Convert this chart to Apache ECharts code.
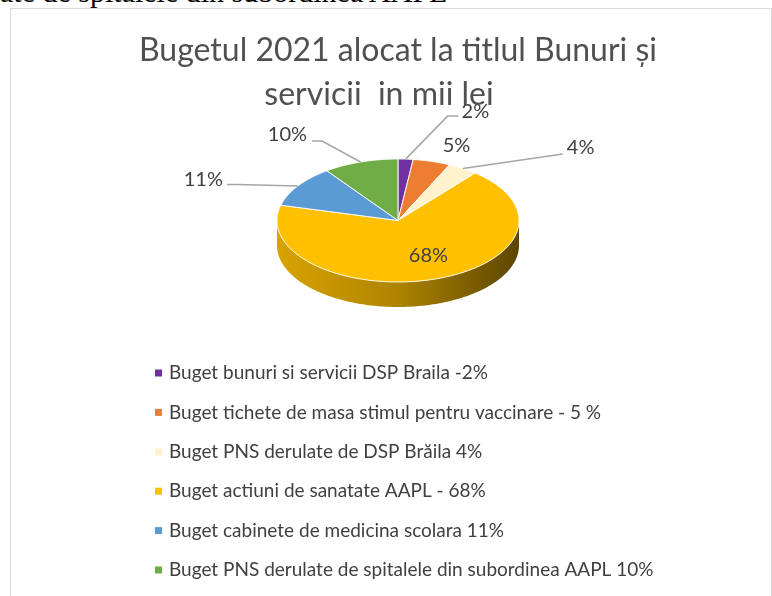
<!DOCTYPE html>
<html>
<head>
<meta charset="utf-8">
<script src="https://cdn.jsdelivr.net/npm/echarts@6/dist/echarts.min.js"></script>
<style>
html,body{margin:0;padding:0;background:#fff;overflow:hidden;}
#cut{position:absolute;left:0;top:-23px;font-family:"Liberation Serif",serif;font-size:30px;line-height:30px;color:#000;white-space:nowrap;}
#frame{position:absolute;left:10px;top:8px;width:760px;height:640px;border:1px solid #d9d9d9;}
#chart{position:absolute;left:0;top:0;width:772px;height:596px;}
</style>
</head>
<body>
<div id="cut">ate de spitalele din subordinea AAPL</div>
<div id="frame"></div>
<div id="chart"></div>
<script>
// date (procente din bugetul pe titlul Bunuri si servicii)
var sliceNames = [
    'Buget bunuri si servicii DSP Braila -2%',
    'Buget tichete de masa stimul pentru vaccinare - 5 %',
    'Buget PNS derulate de DSP Brăila 4%',
    'Buget actiuni de sanatate AAPL - 68%',
    'Buget cabinete de medicina scolara 11%',
    'Buget PNS derulate de spitalele din subordinea AAPL 10%'
];
var sliceValues = [2, 5, 4, 68, 11, 10];
var sliceLabels = ['2%', '5%', '4%', '68%', '11%', '10%'];
var sliceColors = ['#7030A0', '#ED7D31', '#FFF2CC', '#FFC000', '#5B9BD5', '#70AD47'];

// geometria pie-ului 3D (elipsa + grosime)
var pie = {cx: 398, cy: 220.5, rx: 121, ry: 61.5, depth: 25};
// pozitia etichetelor fata de marginea feliei (la unghiul din mijloc)
var labelLayout = [
    {line: [[42, -43], [53, -43]], text: [56, -47.5], align: 'left'},
    {line: null, text: [24.7, -16], align: 'center'},
    {line: [[100, -14.6]], text: [104, -21], align: 'left'},
    {line: null, text: [-7, -23], align: 'center'},
    {line: [[-61, -1.5], [-71, -1.5]], text: [-75, -6.5], align: 'right'},
    {line: [[-38.6, -21], [-48.6, -21]], text: [-53.6, -27.5], align: 'right'}
];

var total = sliceValues.reduce(function (a, b) { return a + b; }, 0);
var startAngles = [];
var acc = 0;
sliceValues.forEach(function (v) { startAngles.push(acc); acc += v / total * 360; });

function pt(deg, dy) {
    var r = deg * Math.PI / 180;
    return [pie.cx + pie.rx * Math.sin(r), pie.cy - pie.ry * Math.cos(r) + (dy || 0)];
}
function arc(a, b, dy) {
    var pts = [];
    var n = Math.max(2, Math.ceil(Math.abs(b - a)));
    for (var k = 0; k <= n; k++) pts.push(pt(a + (b - a) * k / n, dy));
    return pts;
}
function shade(hex, f) {
    var n = parseInt(hex.slice(1), 16);
    return 'rgb(' + Math.round(((n >> 16) & 255) * f) + ',' + Math.round(((n >> 8) & 255) * f) + ',' + Math.round((n & 255) * f) + ')';
}

function makeRender(i) {
    return function (params, api) {
        var c = sliceColors[i];
        var a = startAngles[i];
        var b = a + api.value(0) / total * 360;
        var children = [];
        // partea laterala (doar ce se vede in fata)
        var s = Math.max(a, 90), e = Math.min(b, 270);
        if (e > s) {
            children.push({
                type: 'polygon',
                shape: {points: arc(s, e, 0).concat(arc(e, s, pie.depth))},
                style: {
                    fill: {
                        type: 'linear', x: pie.cx - pie.rx, y: 0, x2: pie.cx + pie.rx, y2: 0, global: true,
                        colorStops: [
                            {offset: 0, color: shade(c, 0.85)},
                            {offset: 0.5, color: shade(c, 0.68)},
                            {offset: 1, color: shade(c, 0.36)}
                        ]
                    }
                }
            });
        }
        // fata de sus
        children.push({
            type: 'polygon',
            shape: {points: [[pie.cx, pie.cy]].concat(arc(a, b, 0))},
            style: {fill: c, stroke: 'rgba(255,255,255,0.9)', lineWidth: 1}
        });
        // eticheta
        var E = pt((a + b) / 2, 0);
        var L = labelLayout[i];
        if (L.line) {
            var pts = [E].concat(L.line.map(function (o) { return [E[0] + o[0], E[1] + o[1]]; }));
            children.push({
                type: 'polyline',
                shape: {points: pts},
                style: {stroke: '#A6A6A6', lineWidth: 1.5, fill: null}
            });
        }
        children.push({
            type: 'text',
            x: E[0] + L.text[0],
            y: E[1] + L.text[1],
            style: {
                text: sliceLabels[i], fill: '#404040', fontFamily: 'Lato', fontSize: 20,
                align: L.align, textAlign: L.align, verticalAlign: 'middle', textVerticalAlign: 'middle'
            }
        });
        return {type: 'group', children: children};
    };
}

var chart = echarts.init(document.getElementById('chart'));
var series = sliceNames.map(function (name, i) {
    return {
        type: 'custom',
        name: name,
        coordinateSystem: 'none',
        silent: true,
        itemStyle: {color: sliceColors[i]},
        renderItem: makeRender(i),
        data: [sliceValues[i]]
    };
});

chart.setOption({
    animation: false,
    title: [
        {
            text: 'Bugetul 2021 alocat la titlul Bunuri și',
            left: 398, top: 31, textAlign: 'center', padding: 0,
            textStyle: {fontFamily: 'Lato', fontSize: 32, fontWeight: 'normal', color: '#505050', lineHeight: 40}
        },
        {
            text: 'servicii  in mii lei',
            left: 379, top: 75, textAlign: 'center', padding: 0,
            textStyle: {fontFamily: 'Lato', fontSize: 32, fontWeight: 'normal', color: '#505050', lineHeight: 40}
        }
    ],
    legend: {
        orient: 'vertical',
        left: 155,
        top: 363,
        padding: 0,
        icon: 'rect',
        itemWidth: 7,
        itemHeight: 7,
        itemGap: 19.4,
        selectedMode: false,
        data: sliceNames,
        textStyle: {fontFamily: 'Lato', fontSize: 19, color: '#404040', lineHeight: 20, padding: [0, 0, 0, 2]}
    },
    series: series
});
</script>
</body>
</html>
